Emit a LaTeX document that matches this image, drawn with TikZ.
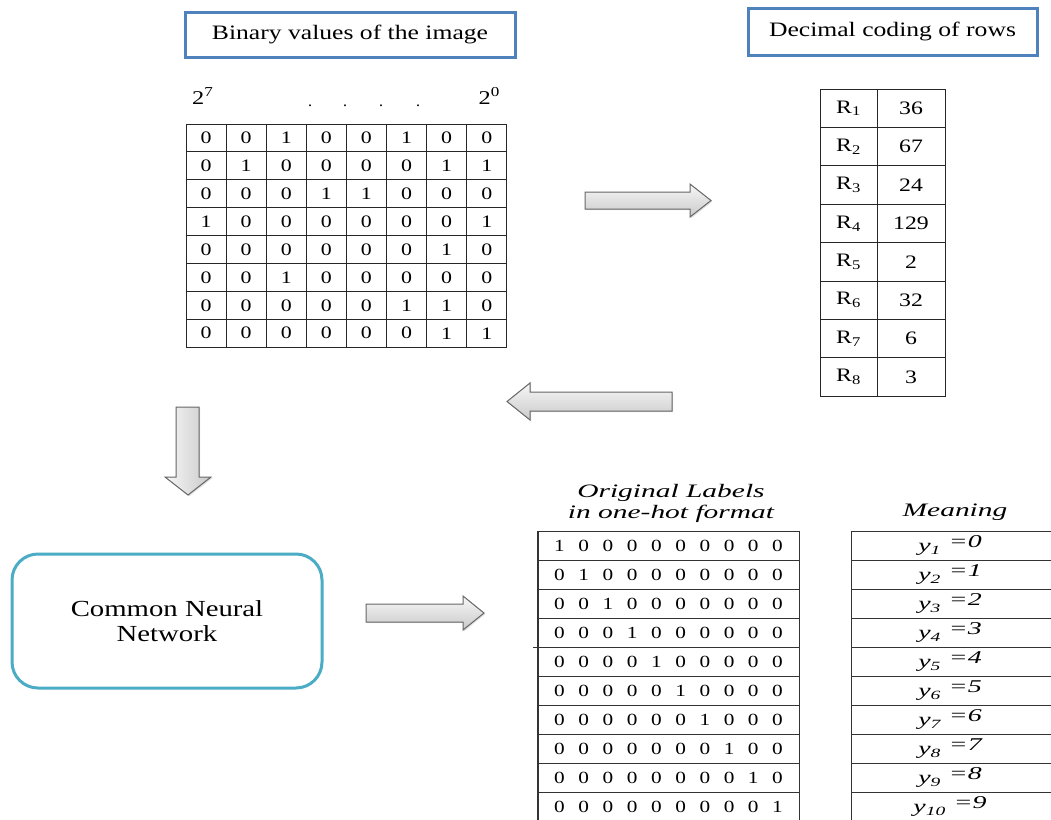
\documentclass[tikz,border=0pt]{standalone}
\usepackage{fontspec}
\setmainfont{Liberation Serif}
\newfontfamily\wide[FakeStretch=1.25]{Liberation Serif}
\newfontfamily\wideit[FakeStretch=1.55]{Liberation Serif}
\usetikzlibrary{shadows}
\definecolor{boxblue}{HTML}{4F81BD}
\definecolor{tealbox}{HTML}{4BACC6}
\newcommand\dg{\hspace{13.6pt}}
\begin{document}
\begin{tikzpicture}[x=1pt,y=-1pt,
  bluebox/.style={draw=boxblue,line width=3pt,inner sep=0pt,font=\wide\fontsize{20.5}{24}\selectfont},
  cell/.style={draw=black!85,line width=1pt,inner sep=0pt,anchor=center,font=\wide\fontsize{17.5}{20}\selectfont},
  dcell/.style={draw=black!85,line width=1pt,inner sep=0pt,anchor=center,minimum height=38.4pt,font=\wide\fontsize{19}{22}\selectfont},
  ohcell/.style={draw=black!80,line width=1pt,inner sep=0pt,anchor=center,minimum height=29pt,font=\wide\fontsize{17}{20}\selectfont},
  blockarrow/.style={draw=black!60,line width=1pt,line join=miter,drop shadow={opacity=0.25,shadow xshift=1.2pt,shadow yshift=-1.2pt}},
  hshade/.style={top color=gray!6,bottom color=gray!42},
  vshade/.style={left color=gray!6,right color=gray!42}
]
\clip (0,0) rectangle (1051,819);
\fill[white] (0,0) rectangle (1051,819);

% title boxes
\node[bluebox,minimum width=330pt,minimum height=45pt] (binT) at (350,34.5) {Binary values of the image};
\node[bluebox,minimum width=289pt,minimum height=47pt] (decT) at (892.5,31.5) {Decimal coding of rows};

% powers of two
\node[anchor=base west,inner sep=0pt,font=\wide\fontsize{19.5}{22}\selectfont] (p7) at (192,104) {2\textsuperscript{7}};
\node[anchor=base east,inner sep=0pt,font=\wide\fontsize{19.5}{22}\selectfont] (p0) at (500,104) {2\textsuperscript{0}};
\foreach \x [count=\k] in {310,345,381,418}
  \node[anchor=base,inner sep=0pt,font=\fontsize{16}{19}\selectfont] (dot\k) at (\x,106) {.};

% binary grid
\foreach \row [count=\i] in {{0,0,1,0,0,1,0,0},{0,1,0,0,0,0,1,1},{0,0,0,1,1,0,0,0},{1,0,0,0,0,0,0,1},{0,0,0,0,0,0,1,0},{0,0,1,0,0,0,0,0},{0,0,0,0,0,1,1,0},{0,0,0,0,0,0,1,1}}{
  \foreach \v [count=\j] in \row {
    \node[cell,minimum width=40.1pt,minimum height=27.9pt] (b-\i-\j) at ({186+40.1*(\j-0.5)},{124+27.9*(\i-0.5)}) {\v};
  }
}

% decimal table
\foreach \val [count=\i] in {36,67,24,129,2,32,6,3}{
  \node[dcell,minimum width=57pt] (d-\i-1) at (848.5,{89+38.4*(\i-0.5)}) {R\textsubscript{\i}};
  \node[dcell,minimum width=68pt] (d-\i-2) at (911,{89+38.4*(\i-0.5)}) {\val};
}

% block arrows
\draw[blockarrow,hshade] (585,192) -- (690,192) -- (690,184) -- (711,200.5) -- (690,217) -- (690,209) -- (585,209) -- cycle;
\draw[blockarrow,hshade] (672,392) -- (530,392) -- (530,383) -- (507,401.5) -- (530,420) -- (530,411) -- (672,411) -- cycle;
\draw[blockarrow,vshade] (176,407) -- (199,407) -- (199,477) -- (211,477) -- (188,495) -- (165,477) -- (176,477) -- cycle;
\draw[blockarrow,hshade] (366,604) -- (463,604) -- (463,596) -- (484,613) -- (463,630) -- (463,622) -- (366,622) -- cycle;

% common neural network
\node[draw=tealbox,line width=3pt,rounded corners=26pt,minimum width=310pt,minimum height=134pt,align=center,
      font=\wide\fontsize{23}{27}\selectfont] (cnn) at (167,621) {Common Neural\\[-2pt]Network};

% headings
\node[align=center,font=\wideit\itshape\fontsize{19}{21}\selectfont] (olab) at (671,503) {Original Labels\\in one-hot format};
\node[font=\wideit\itshape\fontsize{19}{21}\selectfont] (mean) at (955,512) {Meaning};

% one-hot table
\foreach \txt [count=\i] in {
  {1\dg0\dg0\dg0\dg0\dg0\dg0\dg0\dg0\dg0},
  {0\dg1\dg0\dg0\dg0\dg0\dg0\dg0\dg0\dg0},
  {0\dg0\dg1\dg0\dg0\dg0\dg0\dg0\dg0\dg0},
  {0\dg0\dg0\dg1\dg0\dg0\dg0\dg0\dg0\dg0},
  {0\dg0\dg0\dg0\dg1\dg0\dg0\dg0\dg0\dg0},
  {0\dg0\dg0\dg0\dg0\dg1\dg0\dg0\dg0\dg0},
  {0\dg0\dg0\dg0\dg0\dg0\dg1\dg0\dg0\dg0},
  {0\dg0\dg0\dg0\dg0\dg0\dg0\dg1\dg0\dg0},
  {0\dg0\dg0\dg0\dg0\dg0\dg0\dg0\dg1\dg0},
  {0\dg0\dg0\dg0\dg0\dg0\dg0\dg0\dg0\dg1}}{
  \node[ohcell,minimum width=261pt] (oh-\i) at (668.5,{531+29*(\i-0.5)}) {\txt};
  \pgfmathtruncatemacro\mval{\i-1}
  \node[ohcell,minimum width=210pt] (mn-\i) at (956,{531+29*(\i-0.5)}) {};
  \node[inner sep=0pt,font=\wideit\itshape\fontsize{18}{20}\selectfont] (mt-\i) at (950,{531+29*(\i-0.5)}) {y\textsubscript{\i}\hspace{8pt}\raisebox{4pt}{=\mval}};
}
\draw[black!80,line width=1.8pt] (oh-1.north west) -- (oh-10.south west);
\draw[black!80,line width=1.8pt] (oh-1.north east) -- (oh-10.south east);
\draw[black!80,line width=1pt] (oh-4.south west) -- ++(-5,0);
\end{tikzpicture}
\end{document}
